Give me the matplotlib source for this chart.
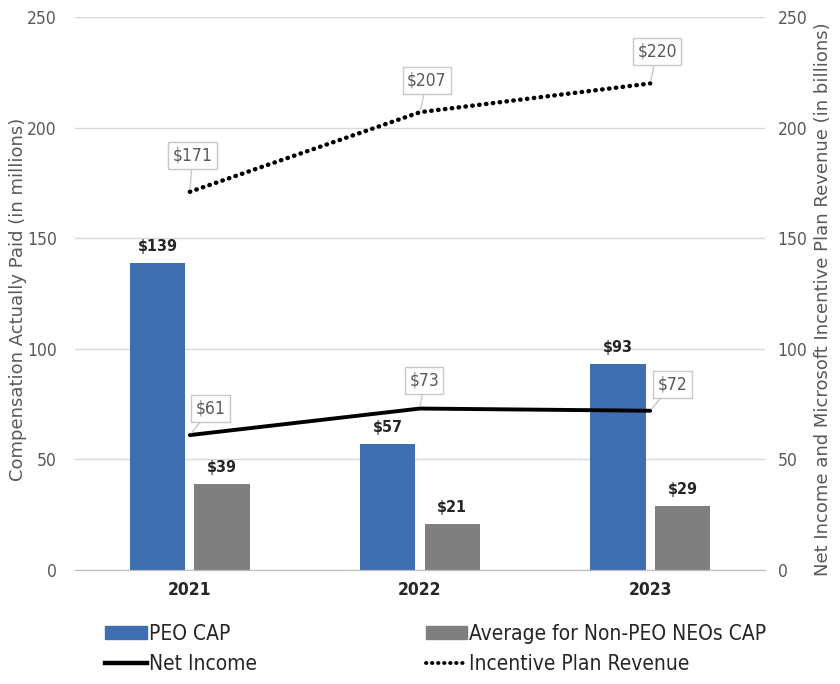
import numpy as np
import matplotlib.pyplot as plt
from matplotlib.patches import Patch
from matplotlib.lines import Line2D

plt.rcParams['font.family'] = ['DejaVu Sans']
plt.rcParams['font.stretch'] = 'condensed'

years = ['2021', '2022', '2023']
peo_cap = [139, 57, 93]
neo_cap = [39, 21, 29]
net_income = [61, 73, 72]
plan_revenue = [171, 207, 220]

blue = '#3f6fb0'
grey = '#7f7f7f'
text_grey = '#595959'

fig = plt.figure(figsize=(8.4, 6.84), dpi=100)
ax = fig.add_axes([0.089, 0.1667, 0.822, 0.8083])
ax2 = ax.twinx()

x = np.arange(len(years))
w = 0.24
off = 0.14

b1 = ax.bar(x - off, peo_cap, w, color=blue, zorder=2)
b2 = ax.bar(x + off, neo_cap, w, color=grey, zorder=2)
for bars, vals in ((b1, peo_cap), (b2, neo_cap)):
    for rect, v in zip(bars, vals):
        ax.text(rect.get_x() + rect.get_width() / 2, v + 4, f'${v}',
                ha='center', va='bottom', fontsize=11.5, fontweight='bold',
                color='#262626')

ax.set_xlim(-0.5, 2.5)
ax.set_ylim(0, 250)
ax2.set_ylim(0, 250)
ax.set_yticks(range(0, 251, 50))
ax2.set_yticks(range(0, 251, 50))
ax.set_xticks(x)
ax.set_xticklabels(years, fontsize=11.5, fontweight='bold', color='#262626')
ax.tick_params(axis='both', length=0, labelsize=12.5, colors=text_grey)
ax.tick_params(axis='x', pad=8, colors='#262626')
ax2.tick_params(axis='y', length=0, labelsize=12.5, colors=text_grey, pad=9)
ax.tick_params(axis='y', pad=13)
ax.grid(axis='y', color='#d9d9d9', lw=1, zorder=0)
for a in (ax, ax2):
    for s in ('top', 'left', 'right'):
        a.spines[s].set_visible(False)
    a.spines['bottom'].set_color('#bfbfbf')

# axis titles use the regular (non-condensed) width
ax.set_ylabel('Compensation Actually Paid (in millions)', fontsize=13,
              color=text_grey, fontstretch='normal', va='center')
ax.yaxis.set_label_coords(-0.082, 0.49)
ax2.set_ylabel('Net Income and Microsoft Incentive Plan Revenue (in billions)',
               fontsize=13, color=text_grey, rotation=90,
               fontstretch='normal', va='center')
ax2.yaxis.set_label_coords(1.083, 0.49)

ax2.plot(x, net_income, color='black', lw=2.8, solid_capstyle='round', zorder=3)
ax2.plot(x, plan_revenue, color='black', lw=3.2,
         linestyle=(0, (0.1, 1.45)), dash_capstyle='round', zorder=3)

box = dict(boxstyle='square,pad=0.25', fc='white', ec='#c8c8c8', lw=1)
arrow = dict(arrowstyle='-', color='#c8c8c8', lw=1, shrinkA=0, shrinkB=2)
rev_off = [(2, 26), (5, 23), (5, 23)]
inc_off = [(15, 19), (3, 20), (16, 19)]
for xi, v, o in zip(x, plan_revenue, rev_off):
    ax2.annotate(f'${v}', (xi, v), xytext=o, textcoords='offset points',
                 ha='center', va='center', fontsize=12.5, color=text_grey,
                 bbox=box, arrowprops=arrow, zorder=4)
for xi, v, o in zip(x, net_income, inc_off):
    ax2.annotate(f'${v}', (xi, v), xytext=o, textcoords='offset points',
                 ha='center', va='center', fontsize=12.5, color=text_grey,
                 bbox=box, arrowprops=arrow, zorder=4)

handles = [Patch(color=blue), Line2D([], [], color='black', lw=3.2),
           Patch(color=grey),
           Line2D([], [], color='black', lw=2.8, linestyle=(0, (0.1, 1.45)),
                  dash_capstyle='round')]
labels = ['PEO CAP', 'Net Income', 'Average for Non-PEO NEOs CAP',
          'Incentive Plan Revenue']
fig.legend(handles, labels, ncol=2, loc='upper left',
           bbox_to_anchor=(0.125, 0.088), frameon=False, fontsize=15,
           handlelength=2.0, handletextpad=0.1, columnspacing=8.1,
           labelspacing=0.5, handleheight=0.6, borderaxespad=0,
           borderpad=0, labelcolor='#262626')

fig.savefig('out.png', dpi=100)
